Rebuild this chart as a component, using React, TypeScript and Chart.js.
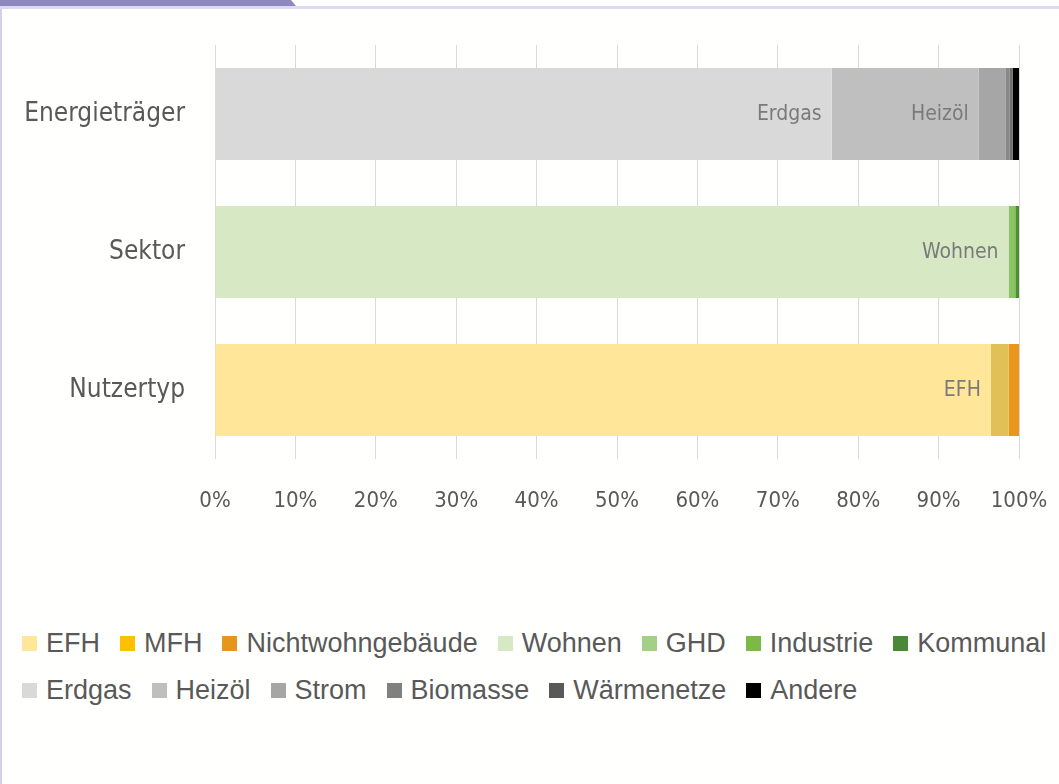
import React, { useEffect, useRef } from 'react';
import { Chart, registerables } from 'chart.js';

Chart.register(...registerables);

const categories = ['Energieträger', 'Sektor', 'Nutzertyp'];
const xTickLabels = ['0%', '10%', '20%', '30%', '40%', '50%', '60%', '70%', '80%', '90%', '100%'];

// Nutzertyp (category index 2)
const nutzertypNames = ['EFH', 'MFH', 'Nichtwohngebäude'];
const nutzertypShares = [96.5, 2.2, 1.3];
const nutzertypLegendColors = ['#ffe699', '#ffc000', '#e6961c'];
const nutzertypBarColors = ['#ffe699', '#e2c058', '#e8961c'];

// Sektor (category index 1)
const sektorNames = ['Wohnen', 'GHD', 'Industrie', 'Kommunal'];
const sektorShares = [98.7, 0.7, 0.2, 0.4];
const sektorLegendColors = ['#d6e8c4', '#a3cf86', '#7cb947', '#4a8a36'];
const sektorBarColors = ['#d6e8c4', '#8cc465', '#6fae45', '#4a8f36'];

// Energieträger (category index 0)
const energieNames = ['Erdgas', 'Heizöl', 'Strom', 'Biomasse', 'Wärmenetze', 'Andere'];
const energieShares = [76.7, 18.3, 3.3, 0.5, 0.4, 0.8];
const energieLegendColors = ['#d9d9d9', '#bfbfbf', '#a6a6a6', '#808080', '#595959', '#000000'];
const energieBarColors = ['#d9d9d9', '#bfbfbf', '#a6a6a6', '#888888', '#6e6e6e', '#000000'];

const insideLabels = ['EFH', 'Wohnen', 'Erdgas', 'Heizöl'];

const NARROW = '"DejaVu Sans Condensed", "Liberation Sans Narrow", sans-serif';
const SANS = '"Liberation Sans", Arial, sans-serif';

type Group = { names: string[]; shares: number[]; legend: string[]; bars: string[]; cat: number };
const groups: Group[] = [
  { names: nutzertypNames, shares: nutzertypShares, legend: nutzertypLegendColors, bars: nutzertypBarColors, cat: 2 },
  { names: sektorNames, shares: sektorShares, legend: sektorLegendColors, bars: sektorBarColors, cat: 1 },
  { names: energieNames, shares: energieShares, legend: energieLegendColors, bars: energieBarColors, cat: 0 },
];

const legendItems: { name: string; color: string }[] = [];
groups.forEach((g) => g.names.forEach((n, i) => legendItems.push({ name: n, color: g.legend[i] })));

const insideLabelPlugin = {
  id: 'insideLabels',
  afterDatasetsDraw(chart: any) {
    const ctx = chart.ctx;
    ctx.save();
    ctx.font = `21px ${NARROW}`;
    ctx.fillStyle = '#7a7a7a';
    ctx.textAlign = 'right';
    ctx.textBaseline = 'middle';
    chart.data.datasets.forEach((ds: any, di: number) => {
      if (!insideLabels.includes(ds.label)) return;
      const meta = chart.getDatasetMeta(di);
      meta.data.forEach((el: any, j: number) => {
        const v = ds.data[j];
        if (v == null) return;
        ctx.fillText(ds.label, el.x - 10, el.y + 1);
      });
    });
    ctx.restore();
  },
};

export default function App() {
  const ref = useRef<HTMLCanvasElement | null>(null);

  useEffect(() => {
    if (!ref.current) return;
    const datasets: any[] = [];
    groups.forEach((g) => {
      g.names.forEach((n, i) => {
        const data: (number | null)[] = categories.map(() => null);
        data[g.cat] = g.shares[i];
        datasets.push({
          label: n,
          data,
          backgroundColor: g.bars[i],
          borderWidth: 0,
          barPercentage: 0.667,
          categoryPercentage: 1,
        });
      });
    });

    const chart = new Chart(ref.current, {
      type: 'bar',
      data: { labels: categories, datasets },
      options: {
        indexAxis: 'y',
        animation: false,
        responsive: false,
        maintainAspectRatio: false,
        layout: { padding: { top: 45, right: 40, left: 0, bottom: 0 } },
        plugins: { legend: { display: false }, tooltip: { enabled: false } },
        scales: {
          x: {
            stacked: true,
            min: 0,
            max: 100,
            ticks: {
              stepSize: 10,
              padding: 29,
              color: '#595959',
              font: { family: NARROW, size: 22 },
              callback: (_v: any, i: number) => xTickLabels[i],
              maxRotation: 0,
            },
            grid: { color: '#d9d9d9', lineWidth: 1, drawTicks: false },
            border: { display: false },
            afterFit: (scale: any) => {
              scale.height = 81;
              scale.paddingLeft = 0;
              scale.paddingRight = 0;
            },
          },
          y: {
            stacked: true,
            ticks: {
              padding: 30,
              color: '#595959',
              font: { family: NARROW, size: 26 },
            },
            grid: { display: false, drawTicks: false },
            border: { display: false },
            afterFit: (scale: any) => {
              scale.width = 215;
              scale.paddingTop = 0;
              scale.paddingBottom = 0;
            },
          },
        },
      },
      plugins: [insideLabelPlugin],
    });
    return () => chart.destroy();
  }, []);

  return (
    <div style={{ position: 'fixed', left: 0, top: 0, width: 1059, height: 784, background: '#fffffe', overflow: 'hidden' }}>
      <div style={{ position: 'absolute', left: 0, top: 0, width: 296, height: 6, background: '#8c89bf', clipPath: 'polygon(0 0, 291px 0, 296px 100%, 0 100%)' }} />
      <div style={{ position: 'absolute', left: 0, top: 6, width: 1059, height: 3, background: '#dcdaf0' }} />
      <div style={{ position: 'absolute', left: 0, top: 9, width: 2, height: 775, background: '#d4d2ea' }} />
      <canvas ref={ref} width={1059} height={540} style={{ position: 'absolute', left: 0, top: 0, width: 1059, height: 540, display: 'block' }} />
      <div style={{ position: 'absolute', left: 22, top: 620, width: 1037, display: 'flex', flexWrap: 'wrap', columnGap: 20, fontFamily: SANS, fontSize: 27, color: '#595959' }}>
        {legendItems.map((it) => (
          <div key={it.name} style={{ display: 'flex', alignItems: 'center', height: 47 }}>
            <span style={{ display: 'inline-block', width: 15, height: 15, background: it.color, marginRight: 9 }} />
            <span style={{ whiteSpace: 'nowrap' }}>{it.name}</span>
          </div>
        ))}
      </div>
    </div>
  );
}
